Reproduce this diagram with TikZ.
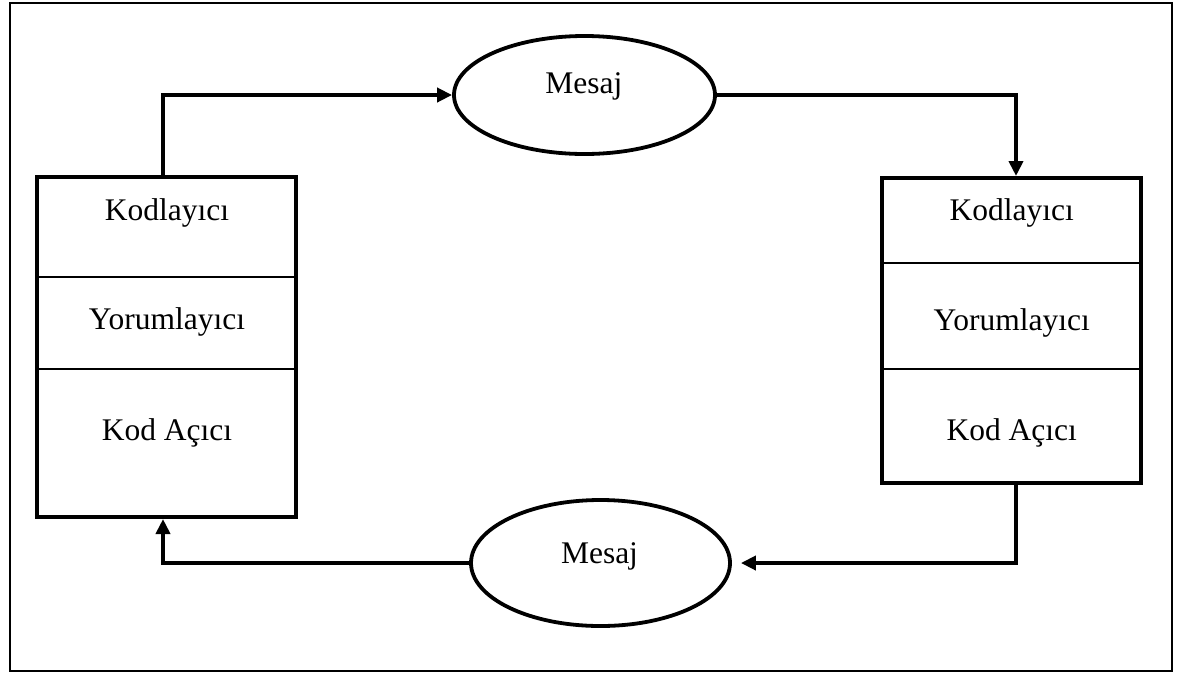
\documentclass[tikz,border=0pt]{standalone}
\usepackage{fontspec}
\setmainfont{Liberation Serif}
\usetikzlibrary{arrows.meta,shapes.geometric}

\begin{document}
\begin{tikzpicture}[x=1pt,y=-1pt,
  every node/.style={font=\fontsize{31.5}{38}\selectfont},
  stack/.style={draw,line width=4pt,rectangle,inner sep=0pt,minimum width=259pt},
  msg/.style={draw,line width=3.8pt,ellipse,inner sep=0pt},
  lbl/.style={anchor=base,inner sep=0pt},
  divider/.style={line width=1.5pt},
  link/.style={line width=3.8pt},
  arrowlink/.style={link,-{Triangle[length=15pt,width=14pt]}}]
  \useasboundingbox (0,0) rectangle (1185,673);

  % outer frame
  \draw[line width=2.5pt] (10,3) rectangle (1172,671);

  % left stack
  \node[stack,minimum height=340pt] (L) at (166.5,347) {};
  \draw[divider] (L.west |- 0,277) -- (L.east |- 0,277);
  \draw[divider] (L.west |- 0,369) -- (L.east |- 0,369);
  \node[lbl] (Lenc) at (167,220) {Kodlayıcı};
  \node[lbl] (Lint) at (167,329) {Yorumlayıcı};
  \node[lbl] (Ldec) at (167,440) {Kod Açıcı};

  % right stack
  \node[stack,minimum height=305pt] (R) at (1011.5,330.5) {};
  \draw[divider] (R.west |- 0,263) -- (R.east |- 0,263);
  \draw[divider] (R.west |- 0,369) -- (R.east |- 0,369);
  \node[lbl] (Renc) at (1011.7,220) {Kodlayıcı};
  \node[lbl] (Rint) at (1011.7,330) {Yorumlayıcı};
  \node[lbl] (Rdec) at (1011.7,440) {Kod Açıcı};

  % messages
  \node[msg,minimum width=261pt,minimum height=118pt] (M1) at (584.5,95) {};
  \node[lbl] (M1t) at (583.8,93.3) {Mesaj};
  \node[msg,minimum width=259pt,minimum height=126pt] (M2) at (600.5,563) {};
  \node[lbl] (M2t) at (599.5,563.3) {Mesaj};

  % connectors
  \coordinate (Lout) at ([xshift=-3.5pt]L.north);
  \coordinate (Lin) at ([xshift=-3.5pt]L.south);
  \coordinate (Rin) at ([xshift=4.5pt]R.north);
  \coordinate (Rout) at ([xshift=4.5pt]R.south);
  \coordinate (M2in) at ([xshift=9pt]M2.east);

  \draw[arrowlink] (Lout) |- (M1.west);
  \draw[arrowlink] (M1.east) -| (Rin);
  \draw[arrowlink] (Rout) |- (M2in);
  \draw[arrowlink] (M2.west) -| (Lin);
\end{tikzpicture}
\end{document}
